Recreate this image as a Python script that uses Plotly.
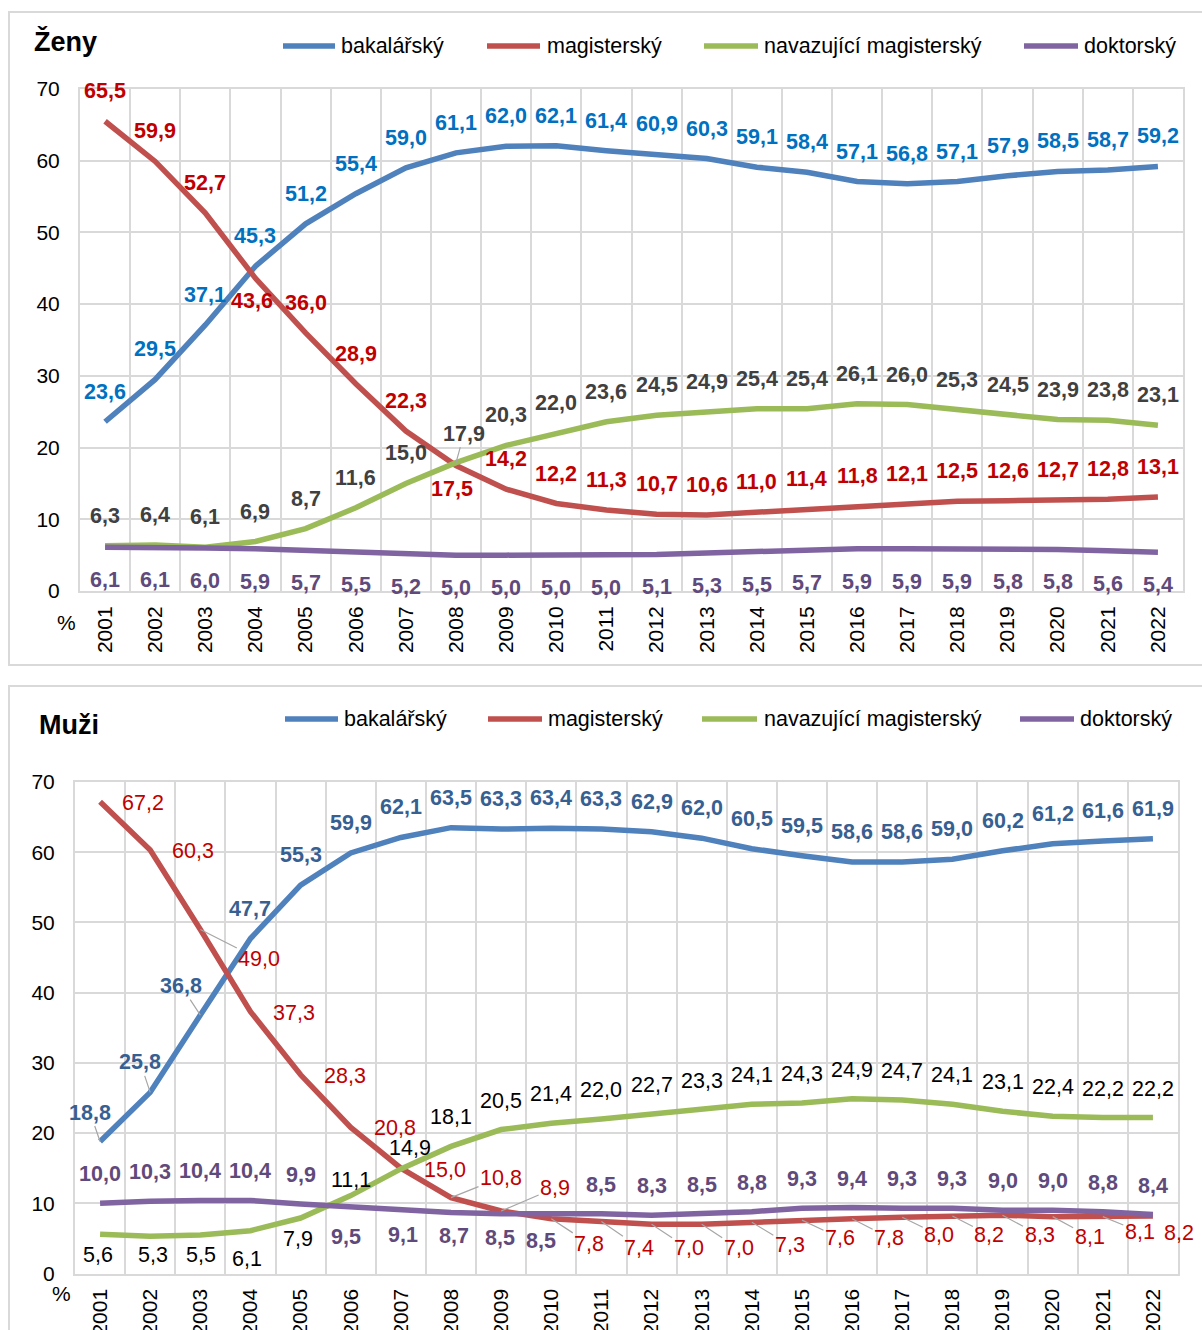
import plotly.graph_objects as go

# ---------------- data ----------------
years = [str(y) for y in range(2001, 2023)]

zeny_bak = [23.6, 29.5, 37.1, 45.3, 51.2, 55.4, 59.0, 61.1, 62.0, 62.1, 61.4,
            60.9, 60.3, 59.1, 58.4, 57.1, 56.8, 57.1, 57.9, 58.5, 58.7, 59.2]
zeny_mag = [65.5, 59.9, 52.7, 43.6, 36.0, 28.9, 22.3, 17.5, 14.2, 12.2, 11.3,
            10.7, 10.6, 11.0, 11.4, 11.8, 12.1, 12.5, 12.6, 12.7, 12.8, 13.1]
zeny_nav = [6.3, 6.4, 6.1, 6.9, 8.7, 11.6, 15.0, 17.9, 20.3, 22.0, 23.6,
            24.5, 24.9, 25.4, 25.4, 26.1, 26.0, 25.3, 24.5, 23.9, 23.8, 23.1]
zeny_dok = [6.1, 6.1, 6.0, 5.9, 5.7, 5.5, 5.2, 5.0, 5.0, 5.0, 5.0,
            5.1, 5.3, 5.5, 5.7, 5.9, 5.9, 5.9, 5.8, 5.8, 5.6, 5.4]

muzi_bak = [18.8, 25.8, 36.8, 47.7, 55.3, 59.9, 62.1, 63.5, 63.3, 63.4, 63.3,
            62.9, 62.0, 60.5, 59.5, 58.6, 58.6, 59.0, 60.2, 61.2, 61.6, 61.9]
muzi_mag = [67.2, 60.3, 49.0, 37.3, 28.3, 20.8, 15.0, 10.8, 8.9, 7.8, 7.4,
            7.0, 7.0, 7.3, 7.6, 7.8, 8.0, 8.2, 8.3, 8.1, 8.1, 8.2]
muzi_nav = [5.6, 5.3, 5.5, 6.1, 7.9, 11.1, 14.9, 18.1, 20.5, 21.4, 22.0,
            22.7, 23.3, 24.1, 24.3, 24.9, 24.7, 24.1, 23.1, 22.4, 22.2, 22.2]
muzi_dok = [10.0, 10.3, 10.4, 10.4, 9.9, 9.5, 9.1, 8.7, 8.5, 8.5, 8.5,
            8.3, 8.5, 8.8, 9.3, 9.4, 9.3, 9.3, 9.0, 9.0, 8.8, 8.4]

series_names = ["bakalářský", "magisterský", "navazující magisterský", "doktorský"]
y_ticks = [0, 10, 20, 30, 40, 50, 60, 70]

# ---------------- styles ----------------
W, H = 1202, 1330
FONT = "Arial, 'Liberation Sans', sans-serif"
GRID = "#D9D9D9"
LINE_COLORS = ["#4F81BD", "#C0504D", "#9BBB59", "#8064A2"]
LEADER = "#A6A6A6"
LBL_SIZE = 21.5
TICK_SIZE = 21
LEG_SIZE = 21.5


def px_x(p):
    return p / W


def px_y(p):
    return 1 - p / H


def fmt(v):
    return f"{v:.1f}".replace(".", ",")


fig = go.Figure()

panels = [
    dict(name="Ženy", xa="x", ya="y",
         data=[zeny_bak, zeny_mag, zeny_nav, zeny_dok]),
    dict(name="Muži", xa="x2", ya="y2",
         data=[muzi_bak, muzi_mag, muzi_nav, muzi_dok]),
]

for p in panels:
    for name, vals, col in zip(series_names, p["data"], LINE_COLORS):
        fig.add_trace(go.Scatter(
            x=years, y=vals, name=name, mode="lines",
            line=dict(color=col, width=5.5),
            xaxis=p["xa"], yaxis=p["ya"], showlegend=False,
            hoverinfo="skip"))

annotations = []


def add_labels(vals, xref, yref, color, bold, default, exc=None, leaders=()):
    exc = exc or {}
    for i, v in enumerate(vals):
        dx, dy = exc.get(i, default)
        font = dict(family=FONT, size=LBL_SIZE, color=color,
                    weight=700 if bold else 400)
        # x given as the category index of years[i]
        if i in leaders:
            annotations.append(dict(
                x=i, y=v, xref=xref, yref=yref, text=fmt(v),
                showarrow=True, ax=dx, ay=-dy, axref="pixel", ayref="pixel",
                arrowhead=0, arrowwidth=1.2, arrowcolor=LEADER, standoff=0,
                font=font))
        else:
            annotations.append(dict(
                x=i, y=v, xref=xref, yref=yref, text=fmt(v),
                showarrow=False, xshift=dx, yshift=dy, font=font))


# Ženy labels
add_labels(zeny_bak, "x", "y", "#0070C0", True, (0, 30))
add_labels(zeny_mag, "x", "y", "#C00000", True, (0, 30),
           exc={3: (-3, -23), 7: (-4, -23)})
add_labels(zeny_nav, "x", "y", "#404040", True, (0, 30),
           exc={7: (8, 29)}, leaders={7})
add_labels(zeny_dok, "x", "y", "#604A7B", True, (0, -33))

# Muži labels
add_labels(muzi_bak, "x2", "y2", "#376092", True, (0, 30),
           exc={0: (-10, 29), 1: (-10, 30), 2: (-19, 29)}, leaders={0, 1, 2})
add_labels(muzi_mag, "x2", "y2", "#C00000", False, (44, -1),
           exc={0: (43, -1), 1: (43, -1), 2: (59, -30), 6: (44, -2),
                7: (50, 20), 8: (54, 23), 9: (38, -25), 10: (38, -26),
                11: (37, -24), 12: (37, -24), 13: (38, -23), 14: (38, -18),
                15: (37, -19), 16: (37, -18), 17: (37, -19), 18: (37, -20),
                19: (37, -20), 20: (37, -15), 21: (26, -17)},
           leaders={2, 7, 8, 9, 10, 11, 12, 13, 14, 15, 16, 17, 18, 19, 20})
add_labels(muzi_nav, "x2", "y2", "#000000", False, (0, 29),
           exc={0: (-2, -21), 1: (3, -19), 2: (1, -20), 3: (-3, -28),
                4: (-3, -21), 5: (0, 16), 6: (9, 21)})
add_labels(muzi_dok, "x2", "y2", "#604A7B", True, (0, 29),
           exc={5: (-5, -30), 6: (2, -25), 7: (3, -24), 8: (-1, -24),
                9: (-10, -27)})

# titles, % labels
annotations.append(dict(x=px_x(32), y=px_y(42), xref="paper", yref="paper",
                        text="Ženy", showarrow=False, xanchor="left",
                        yanchor="middle",
                        font=dict(family=FONT, size=27, color="#000",
                                  weight=700)))
annotations.append(dict(x=px_x(37), y=px_y(725), xref="paper", yref="paper",
                        text="Muži", showarrow=False, xanchor="left",
                        yanchor="middle",
                        font=dict(family=FONT, size=27, color="#000",
                                  weight=700)))
annotations.append(dict(x=px_x(55), y=px_y(622), xref="paper", yref="paper",
                        text="%", showarrow=False,
                        font=dict(family=FONT, size=TICK_SIZE, color="#000")))
annotations.append(dict(x=px_x(50), y=px_y(1307), xref="paper", yref="paper",
                        text="%", showarrow=False,
                        font=dict(family=FONT, size=TICK_SIZE, color="#000")))

shapes = []
# custom legends
legend_layouts = [
    (46, [(283, 335, 339), (487, 540, 545), (704, 758, 762), (1024, 1078, 1082)]),
    (719, [(285, 338, 342), (488, 542, 546), (702, 757, 762), (1020, 1074, 1078)]),
]
for ly, items in legend_layouts:
    for (x0, x1, tx), name, col in zip(items, series_names, LINE_COLORS):
        shapes.append(dict(type="line", xref="paper", yref="paper",
                           x0=px_x(x0), x1=px_x(x1), y0=px_y(ly), y1=px_y(ly),
                           line=dict(color=col, width=5.5)))
        annotations.append(dict(x=px_x(tx), y=px_y(ly), xref="paper",
                                yref="paper", text=name, showarrow=False,
                                xanchor="left", yanchor="middle",
                                font=dict(family=FONT, size=LEG_SIZE,
                                          color="#000")))

# panel frames
shapes.append(dict(type="rect", xref="paper", yref="paper",
                   x0=px_x(9), x1=px_x(1215), y0=px_y(665), y1=px_y(12),
                   line=dict(color=GRID, width=2), layer="below"))
shapes.append(dict(type="rect", xref="paper", yref="paper",
                   x0=px_x(9), x1=px_x(1215), y0=px_y(1345), y1=px_y(686),
                   line=dict(color=GRID, width=2), layer="below"))

xcommon = dict(type="category", tickson="boundaries", showgrid=True,
               range=[-0.5, 21.5], autorange=False,
               gridcolor=GRID, gridwidth=2, tickangle=-90,
               tickfont=dict(family=FONT, size=TICK_SIZE, color="#000"),
               ticks="", showline=True, mirror=True, linecolor=GRID,
               linewidth=2, fixedrange=True, ticklabelstandoff=5,
               automargin=False)
ycommon = dict(range=[0, 70], autorange=False, tickvals=y_ticks,
               showgrid=True,
               gridcolor=GRID, gridwidth=2, zeroline=False, showline=True,
               mirror=True, linecolor=GRID, linewidth=2,
               tickfont=dict(family=FONT, size=TICK_SIZE, color="#000"),
               ticks="", ticklabelstandoff=14, fixedrange=True,
               automargin=False)

fig.update_layout(
    width=W, height=H, autosize=False,
    margin=dict(l=0, r=0, t=0, b=0, pad=0, autoexpand=False),
    paper_bgcolor="white", plot_bgcolor="white",
    showlegend=False,
    font=dict(family=FONT),
    xaxis=dict(xcommon, domain=[px_x(80), px_x(1183)], anchor="y"),
    yaxis=dict(ycommon, domain=[px_y(591), px_y(89)], anchor="x"),
    xaxis2=dict(xcommon, domain=[px_x(75), px_x(1178)], anchor="y2"),
    yaxis2=dict(ycommon, domain=[px_y(1273.5), px_y(782)], anchor="x2"),
    annotations=annotations,
    shapes=shapes,
)

fig.write_html(
    "out.html",
    config={"displayModeBar": False},
    post_script="document.body.style.margin='0';"
                "document.body.style.overflow='hidden';")
